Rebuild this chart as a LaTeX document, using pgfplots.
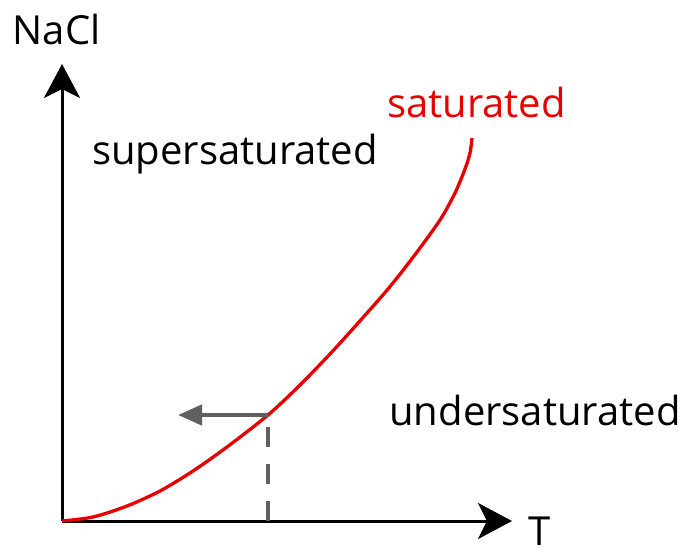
\documentclass[border=0pt]{standalone}
\usepackage{pgfplots}
\pgfplotsset{compat=1.18}
\usepackage{fontspec}
\setmainfont{Open Sans}
\usetikzlibrary{arrows.meta}
\definecolor{satred}{RGB}{230,0,0}
\definecolor{arrgray}{RGB}{96,96,96}
\begin{document}
\begin{tikzpicture}
\useasboundingbox (0,0) rectangle (687pt,552pt);
\begin{axis}[
  scale only axis,
  width=687pt, height=552pt,
  xmin=-62, xmax=625, ymin=-31, ymax=521,
  hide axis,
  clip=false,
]
% axes
\addplot[black, line width=3pt, -{Stealth[length=34pt,width=36pt,inset=9pt]}] coordinates {(0,0) (0,457)};
\addplot[black, line width=3pt, -{Stealth[length=34pt,width=36pt,inset=9pt]}] coordinates {(0,0) (450,0)};
% saturation curve
\addplot[satred, line width=3.3pt, smooth] coordinates {
(0,0) (31,4) (65,15) (98,30) (131,50) (165,74) (206,106) (237,135) (268,167) (297,199) (326,232) (352,265) (378,301) (393,328) (403,352) (408,368) (410,383)};
% dashed drop line
\addplot[arrgray, line width=4.5pt, dash pattern=on 20pt off 17pt] coordinates {(206,0) (206,106)};
% horizontal arrow
\addplot[arrgray, line width=4.5pt, -{Triangle[length=24pt,width=20pt]}] coordinates {(206,106) (116,106)};
% labels
\node[anchor=base, font=\fontsize{40}{44}\selectfont] at (axis cs:-5.5,476) {NaCl};
\node[anchor=base, inner sep=1pt, font=\fontsize{40}{44}\selectfont] at (axis cs:478,-24) {T};
\node[anchor=base, font=\fontsize{40}{44}\selectfont] at (axis cs:173,356) {supersaturated};
\node[anchor=base, text=satred, font=\fontsize{40}{44}\selectfont] at (axis cs:414.5,403) {saturated};
\node[anchor=base, font=\fontsize{40}{44}\selectfont] at (axis cs:473,96) {undersaturated};
\end{axis}
\end{tikzpicture}
\end{document}
